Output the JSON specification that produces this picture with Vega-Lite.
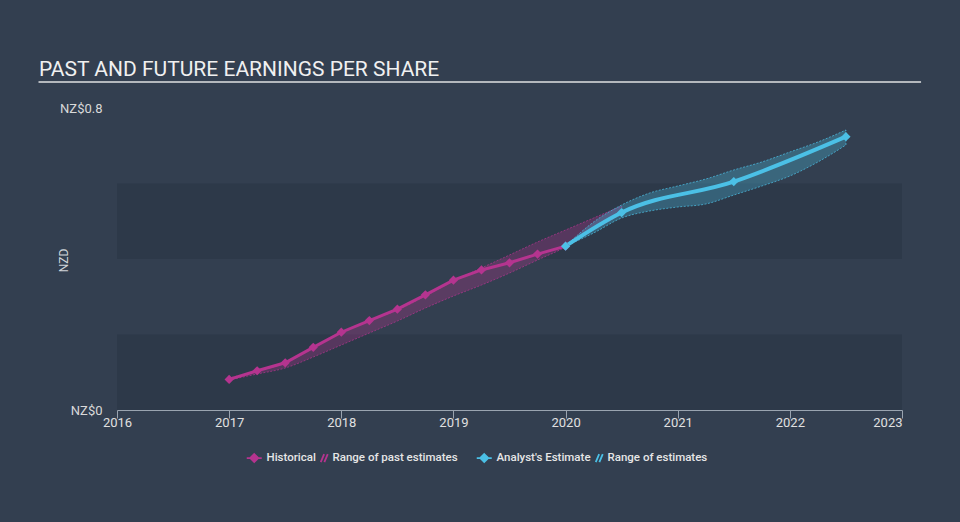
{
  "$schema": "https://vega.github.io/schema/vega-lite/v6.json",
  "width": 785,
  "height": 302,
  "autosize": {"type": "none"},
  "padding": {"left": 117, "top": 108, "right": 58, "bottom": 112},
  "background": "#333f50",
  "title": {
    "text": "PAST AND FUTURE EARNINGS PER SHARE",
    "anchor": "start",
    "frame": "group",
    "dx": -78,
    "offset": -16,
    "baseline": "alphabetic",
    "font": "Roboto",
    "fontSize": 21,
    "fontWeight": "normal",
    "color": "#f0f0f0"
  },
  "datasets": {
    "bands": [{"lo": 0, "hi": 0.2}, {"lo": 0.4, "hi": 0.6}],
    "underline": [{"x0": 2015.3, "x1": 2023.17, "y": 0.869}],
    "pastRange": [
      {"year": 2017.0, "low": 0.0795, "high": 0.0848},
      {"year": 2017.25, "low": 0.0954, "high": 0.1033},
      {"year": 2017.5, "low": 0.1113, "high": 0.1245},
      {"year": 2017.75, "low": 0.1404, "high": 0.1642},
      {"year": 2018.0, "low": 0.1722, "high": 0.2040},
      {"year": 2018.25, "low": 0.2040, "high": 0.2358},
      {"year": 2018.5, "low": 0.2358, "high": 0.2649},
      {"year": 2018.75, "low": 0.2702, "high": 0.3020},
      {"year": 2019.0, "low": 0.3020, "high": 0.3417},
      {"year": 2019.25, "low": 0.3311, "high": 0.3762},
      {"year": 2019.5, "low": 0.3629, "high": 0.4106},
      {"year": 2019.75, "low": 0.3974, "high": 0.4450},
      {"year": 2020.0, "low": 0.4318, "high": 0.4768},
      {"year": 2020.25, "low": 0.4768, "high": 0.5086},
      {"year": 2020.5, "low": 0.5192, "high": 0.5404}
    ],
    "estRange": [
      {"year": 2020.0, "low": 0.4344, "high": 0.4344},
      {"year": 2020.25, "low": 0.4689, "high": 0.4980},
      {"year": 2020.5, "low": 0.5086, "high": 0.5430},
      {"year": 2020.75, "low": 0.5272, "high": 0.5748},
      {"year": 2021.0, "low": 0.5377, "high": 0.5934},
      {"year": 2021.25, "low": 0.5457, "high": 0.6119},
      {"year": 2021.5, "low": 0.5695, "high": 0.6358},
      {"year": 2021.75, "low": 0.5934, "high": 0.6570},
      {"year": 2022.0, "low": 0.6199, "high": 0.6834},
      {"year": 2022.25, "low": 0.6570, "high": 0.7099},
      {"year": 2022.5, "low": 0.7020, "high": 0.7417}
    ],
    "eps": [
      {"year": 2017.0, "eps": 0.081, "series": "Historical"},
      {"year": 2017.25, "eps": 0.104, "series": "Historical"},
      {"year": 2017.5, "eps": 0.125, "series": "Historical"},
      {"year": 2017.75, "eps": 0.166, "series": "Historical"},
      {"year": 2018.0, "eps": 0.206, "series": "Historical"},
      {"year": 2018.25, "eps": 0.237, "series": "Historical"},
      {"year": 2018.5, "eps": 0.267, "series": "Historical"},
      {"year": 2018.75, "eps": 0.305, "series": "Historical"},
      {"year": 2019.0, "eps": 0.344, "series": "Historical"},
      {"year": 2019.25, "eps": 0.371, "series": "Historical"},
      {"year": 2019.5, "eps": 0.390, "series": "Historical"},
      {"year": 2019.75, "eps": 0.413, "series": "Historical"},
      {"year": 2020.0, "eps": 0.434, "series": "Historical"},
      {"year": 2020.0, "eps": 0.434, "series": "Analyst's Estimate"},
      {"year": 2020.5, "eps": 0.523, "series": "Analyst's Estimate"},
      {"year": 2021.5, "eps": 0.605, "series": "Analyst's Estimate"},
      {"year": 2022.5, "eps": 0.724, "series": "Analyst's Estimate"}
    ]
  },
  "layer": [
    {
      "data": {"name": "bands"},
      "mark": {"type": "rect", "color": "#2d3949"},
      "encoding": {
        "y": {
          "field": "lo", "type": "quantitative",
          "scale": {"domain": [0, 0.8], "nice": false, "zero": true},
          "axis": {"title": "NZD", "values": [0, 0.8], "labelExpr": "'NZ$' + datum.value", "titleX": -54, "titleY": 152, "titleAngle": -90, "titleAlign": "center", "titleBaseline": "middle"}
        },
        "y2": {"field": "hi"}
      }
    },
    {
      "data": {"name": "underline"},
      "mark": {"type": "rule", "color": "#b4b8bd", "strokeWidth": 2},
      "encoding": {
        "x": {"field": "x0", "type": "quantitative", "scale": {"domain": [2016, 2023], "nice": false, "zero": false},
          "axis": {"title": null, "values": [2016, 2017, 2018, 2019, 2020, 2021, 2022, 2023], "format": "d", "labelAlign": {"condition": {"test": "datum.value == 2023", "value": "right"}, "value": "center"}}},
        "x2": {"field": "x1"},
        "y": {"field": "y", "type": "quantitative", "scale": {"domain": [0, 0.8], "nice": false},
          "axis": {"title": "NZD", "values": [0, 0.8], "labelExpr": "'NZ$' + datum.value", "titleX": -54, "titleY": 152, "titleAngle": -90, "titleAlign": "center", "titleBaseline": "middle"}}
      }
    },
    {
      "data": {"name": "pastRange"},
      "mark": {"type": "area", "interpolate": "monotone", "fill": "#b5348f", "fillOpacity": 0.3, "stroke": "#b5348f", "strokeWidth": 0.8, "strokeDash": [2, 1.5], "strokeOpacity": 0.9},
      "encoding": {
        "x": {"field": "year", "type": "quantitative", "scale": {"domain": [2016, 2023], "nice": false, "zero": false},
          "axis": {"title": null, "values": [2016, 2017, 2018, 2019, 2020, 2021, 2022, 2023], "format": "d", "labelAlign": {"condition": {"test": "datum.value == 2023", "value": "right"}, "value": "center"}}},
        "y": {"field": "low", "type": "quantitative", "scale": {"domain": [0, 0.8], "nice": false},
          "axis": {"title": "NZD", "values": [0, 0.8], "labelExpr": "'NZ$' + datum.value", "titleX": -54, "titleY": 152, "titleAngle": -90, "titleAlign": "center", "titleBaseline": "middle"}},
        "y2": {"field": "high"}
      }
    },
    {
      "data": {"name": "estRange"},
      "mark": {"type": "area", "interpolate": "monotone", "fill": "#4bc0e6", "fillOpacity": 0.3, "stroke": "#4bc0e6", "strokeWidth": 0.8, "strokeDash": [2, 1.5], "strokeOpacity": 0.9},
      "encoding": {
        "x": {"field": "year", "type": "quantitative", "scale": {"domain": [2016, 2023], "nice": false, "zero": false},
          "axis": {"title": null, "values": [2016, 2017, 2018, 2019, 2020, 2021, 2022, 2023], "format": "d", "labelAlign": {"condition": {"test": "datum.value == 2023", "value": "right"}, "value": "center"}}},
        "y": {"field": "low", "type": "quantitative", "scale": {"domain": [0, 0.8], "nice": false},
          "axis": {"title": "NZD", "values": [0, 0.8], "labelExpr": "'NZ$' + datum.value", "titleX": -54, "titleY": 152, "titleAngle": -90, "titleAlign": "center", "titleBaseline": "middle"}},
        "y2": {"field": "high"}
      }
    },
    {
      "data": {"name": "eps"},
      "transform": [{"filter": "datum.series == 'Historical'"}],
      "mark": {"type": "line", "strokeWidth": 3, "interpolate": "linear", "color": "#b5348f"},
      "encoding": {
        "x": {"field": "year", "type": "quantitative", "scale": {"domain": [2016, 2023], "nice": false, "zero": false},
          "axis": {"title": null, "values": [2016, 2017, 2018, 2019, 2020, 2021, 2022, 2023], "format": "d", "labelAlign": {"condition": {"test": "datum.value == 2023", "value": "right"}, "value": "center"}}},
        "y": {"field": "eps", "type": "quantitative", "scale": {"domain": [0, 0.8], "nice": false},
          "axis": {"title": "NZD", "values": [0, 0.8], "labelExpr": "'NZ$' + datum.value", "titleX": -54, "titleY": 152, "titleAngle": -90, "titleAlign": "center", "titleBaseline": "middle"}}
      }
    },
    {
      "data": {"name": "eps"},
      "transform": [{"filter": "datum.series != 'Historical'"}],
      "mark": {"type": "line", "strokeWidth": 4, "interpolate": "monotone", "color": "#4bc0e6"},
      "encoding": {
        "x": {"field": "year", "type": "quantitative", "scale": {"domain": [2016, 2023], "nice": false, "zero": false},
          "axis": {"title": null, "values": [2016, 2017, 2018, 2019, 2020, 2021, 2022, 2023], "format": "d", "labelAlign": {"condition": {"test": "datum.value == 2023", "value": "right"}, "value": "center"}}},
        "y": {"field": "eps", "type": "quantitative", "scale": {"domain": [0, 0.8], "nice": false},
          "axis": {"title": "NZD", "values": [0, 0.8], "labelExpr": "'NZ$' + datum.value", "titleX": -54, "titleY": 152, "titleAngle": -90, "titleAlign": "center", "titleBaseline": "middle"}}
      }
    },
    {
      "data": {"name": "eps"},
      "mark": {"type": "point", "shape": "diamond", "filled": true, "size": 85, "opacity": 1},
      "encoding": {
        "x": {"field": "year", "type": "quantitative", "scale": {"domain": [2016, 2023], "nice": false, "zero": false},
          "axis": {"title": null, "values": [2016, 2017, 2018, 2019, 2020, 2021, 2022, 2023], "format": "d", "labelAlign": {"condition": {"test": "datum.value == 2023", "value": "right"}, "value": "center"}}},
        "y": {"field": "eps", "type": "quantitative", "scale": {"domain": [0, 0.8], "nice": false},
          "axis": {"title": "NZD", "values": [0, 0.8], "labelExpr": "'NZ$' + datum.value", "titleX": -54, "titleY": 152, "titleAngle": -90, "titleAlign": "center", "titleBaseline": "middle"}},
        "color": {
          "field": "series", "type": "nominal",
          "scale": {"domain": ["Historical", "Range of past estimates", "Analyst's Estimate", "Range of estimates"], "range": ["#b5348f", "#b5348f", "#4bc0e6", "#4bc0e6"]},
          "legend": {
            "title": null,
            "orient": "none",
            "legendX": 139,
            "legendY": 344,
            "direction": "horizontal",
            "columns": 4,
            "columnPadding": 1,
            "labelOffset": -1,
            "symbolSize": 64,
            "labelLimit": 300,
            "labelFont": "Roboto",
            "labelFontSize": 11.5,
            "labelFontWeight": 500,
            "labelColor": "#e6e6e6",
            "labelExpr": "datum.value == 'Range of past estimates' ? datum.label + '\u00a0\u00a0\u00a0\u00a0\u00a0\u200b' : datum.label",
            "encoding": {
              "symbols": {
                "shape": {"value": {"expr": "(datum.value == 'Range of past estimates' || datum.value == 'Range of estimates') ? 'M-1.75,1L-0.9,-1M-0.85,1L0,-1' : 'M-3.75,0L0,0M-1.875,-1L-0.875,0L-1.875,1L-2.875,0Z'"}},
                "stroke": {"value": {"expr": "(datum.value == 'Historical' || datum.value == 'Range of past estimates') ? '#b5348f' : '#4bc0e6'"}},
                "fill": {"value": {"expr": "(datum.value == 'Historical' || datum.value == 'Range of past estimates') ? '#b5348f' : '#4bc0e6'"}},
                "strokeWidth": {"value": 1.8},
                "opacity": {"value": 1}
              }
            }
          }
        }
      }
    }
  ],
  "config": {
    "view": {"stroke": null},
    "axisX": {
      "domainColor": "#9aa4b0",
      "domainWidth": 1,
      "tickColor": "#9aa4b0",
      "tickSize": 8,
      "labelColor": "#e0e0e0",
      "labelFont": "Roboto",
      "labelFontSize": 13,
      "labelPadding": -2,
      "grid": false
    },
    "axisY": {
      "domain": false,
      "ticks": false,
      "grid": false,
      "labelColor": "#d9d9d9",
      "labelFont": "Roboto",
      "labelFontSize": 13,
      "labelPadding": 15,
      "titleColor": "#d0d4d9",
      "titleFont": "Roboto",
      "titleFontSize": 12,
      "titleFontWeight": "normal"
    }
  }
}
